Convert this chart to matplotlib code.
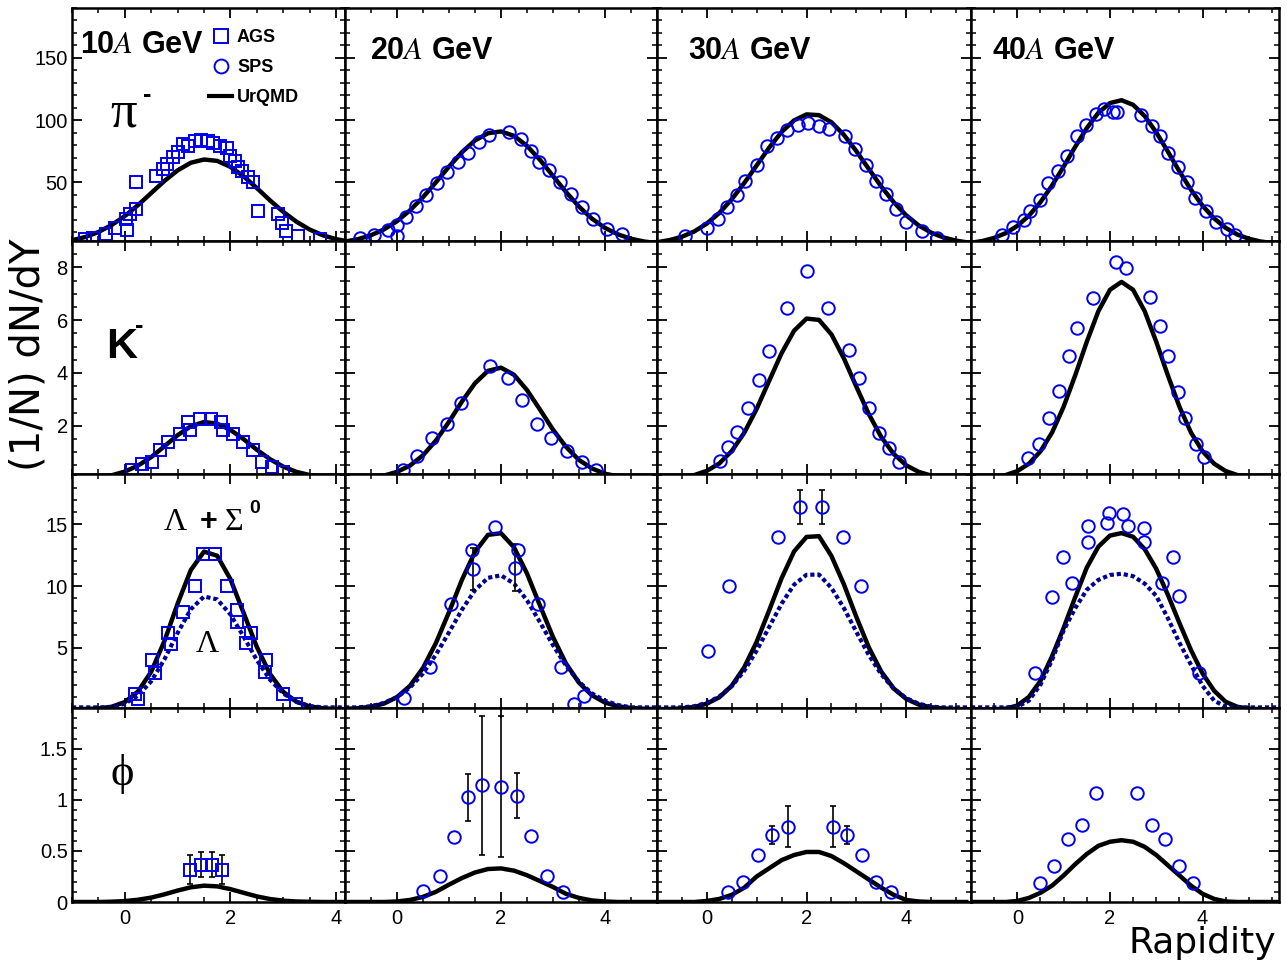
import numpy as np
import matplotlib
matplotlib.use('Agg')
import matplotlib.pyplot as plt
from matplotlib.ticker import MultipleLocator, FormatStrFormatter
from matplotlib.lines import Line2D

W, H = 1287, 965
BLUE, NAVY, INK = '#0000ee', '#000090', 'black'

plt.rcParams.update({
    'font.family': 'Liberation Sans', 'mathtext.fontset': 'stix',
    'xtick.direction': 'in', 'ytick.direction': 'in',
    'xtick.top': True, 'ytick.right': True,
    'axes.linewidth': 1.8, 'axes.edgecolor': INK,
})

# panel geometry in pixels (ROOT-like 4x4 canvas)
COL_EDGES = [72, 345, 657, 971, 1279]
ROW_EDGES = [8, 241, 474, 708, 902]
XLIMS = [(-1, 4.17), (-1, 5.0), (-1, 5.3), (-1, 5.65)]
YLIMS = [(3, 190), (0.17, 9.0), (0.1, 19.1), (0, 1.9)]
Y_MAJOR = [50, 2, 5, 0.5]
Y_MINOR = [10, 0.5, 1, 0.1]
ENERGIES = ['10', '20', '30', '40']

# UrQMD curves sampled on rapidity grid -1, -0.75, ... (one list per beam energy)
GRID = np.arange(-1, 5.76, 0.25)
PI_URQMD = [
    [3.6, 6.2, 10.2, 15.8, 23.0, 31.8, 41.5, 51.2, 59.7, 65.8, 68.4, 67.3, 62.5, 54.9, 45.5, 35.6, 26.4, 18.5,
     12.2, 7.6, 4.5, 2.5],
    [2.5, 4.5, 7.6, 12.3, 18.9, 27.6, 38.2, 50.2, 62.7, 74.3, 83.7, 89.5, 90.9, 87.4, 79.3, 68.1, 55.2, 42.3,
     30.6, 20.9, 13.5, 8.3, 4.8, 2.6, 1.3],
    [2.0, 3.7, 6.4, 10.7, 17.0, 25.5, 36.5, 49.5, 63.7, 77.9, 90.5, 99.8, 104.6, 104.0, 98.3, 88.2, 75.1, 60.8,
     46.7, 34.1, 23.6, 15.5, 9.7, 5.8, 3.3, 1.7],
    [1.6, 3.0, 5.5, 9.3, 15.1, 23.3, 34.2, 47.5, 62.7, 78.6, 93.6, 105.9, 113.7, 116.0, 112.3, 103.3, 90.2, 74.8,
     58.9, 44.1, 31.3, 21.1, 13.5, 8.2, 4.8, 2.6, 1.4, 0.6],
]
K_URQMD = [
    [0.01, 0.02, 0.05, 0.12, 0.26, 0.49, 0.81, 1.22, 1.64, 1.98, 2.14, 2.08, 1.84, 1.49, 1.09, 0.73, 0.45, 0.25,
     0.13, 0.06, 0.02, 0.01],
    [0.01, 0.02, 0.05, 0.11, 0.25, 0.49, 0.88, 1.44, 2.15, 2.92, 3.61, 4.08, 4.20, 3.93, 3.35, 2.61, 1.85, 1.20,
     0.70, 0.38, 0.18, 0.08, 0.03, 0.01, 0.0],
    [0.01, 0.02, 0.06, 0.13, 0.29, 0.57, 1.04, 1.73, 2.64, 3.70, 4.75, 5.60, 6.06, 6.01, 5.46, 4.55, 3.48, 2.44,
     1.57, 0.93, 0.50, 0.25, 0.11, 0.05, 0.02, 0.01],
    [0.01, 0.02, 0.06, 0.13, 0.28, 0.56, 1.03, 1.74, 2.72, 3.91, 5.18, 6.34, 7.15, 7.45, 7.15, 6.34, 5.18, 3.91,
     2.72, 1.74, 1.03, 0.56, 0.28, 0.13, 0.06, 0.02, 0.01, 0.0],
]
LAMSIG_URQMD = [
    [0.0, 0.02, 0.06, 0.2, 0.58, 1.44, 3.05, 5.53, 8.57, 11.3, 12.8, 12.46, 10.56, 7.82, 5.06, 2.86, 1.41, 0.61,
     0.23, 0.08, 0.02, 0.0],
    [0.03, 0.08, 0.2, 0.46, 0.98, 1.90, 3.35, 5.39, 7.88, 10.52, 12.78, 14.16, 14.29, 13.15, 11.02, 8.41, 5.86,
     3.71, 2.15, 1.13, 0.54, 0.24, 0.1, 0.04, 0.01],
    [0.0, 0.02, 0.07, 0.19, 0.45, 0.97, 1.91, 3.40, 5.48, 8.02, 10.64, 12.81, 13.99, 14.05, 12.44, 10.14, 7.49,
     5.02, 3.05, 1.68, 0.84, 0.38, 0.16, 0.06, 0.02, 0.0],
    [0.0, 0.0, 0.0, 0.05, 0.3, 1.0, 2.3, 4.3, 6.6, 9.1, 11.5, 13.2, 14.1, 14.3, 14.0, 13.0, 11.4, 9.3, 7.0, 4.8,
     2.9, 1.5, 0.6, 0.2, 0.05, 0.0, 0.0, 0.0],
]
LAM_URQMD = [
    [0.15, 0.15, 0.15, 0.16, 0.45, 1.10, 2.27, 4.05, 6.19, 8.12, 9.15, 8.92, 7.70, 5.89, 4.0, 2.40, 1.28, 0.60,
     0.25, 0.15, 0.15, 0.15],
    [0.15, 0.15, 0.24, 0.51, 0.98, 1.76, 2.91, 4.44, 6.24, 8.09, 9.67, 10.67, 10.87, 10.20, 8.84, 7.06, 5.20,
     3.54, 2.22, 1.28, 0.69, 0.34, 0.15, 0.15, 0.15],
    [0.15, 0.15, 0.15, 0.24, 0.52, 1.03, 1.87, 3.12, 4.76, 6.67, 8.57, 10.11, 10.92, 10.93, 9.85, 8.21, 6.28,
     4.40, 2.83, 1.67, 0.90, 0.45, 0.20, 0.15, 0.15, 0.15],
    [0.15, 0.15, 0.15, 0.15, 0.2, 0.7, 2.0, 4.0, 6.4, 8.2, 9.7, 10.5, 10.9, 11.0, 10.8, 10.2, 9.2, 7.4, 5.4, 3.6,
     1.9, 0.7, 0.2, 0.15, 0.15, 0.15, 0.15, 0.15],
]
PHI_URQMD = [
    [0, 0, 0, 0.003, 0.009, 0.022, 0.043, 0.075, 0.112, 0.144, 0.16, 0.153, 0.126, 0.09, 0.055, 0.029, 0.013,
     0.005, 0.002, 0, 0, 0],
    [0, 0, 0, 0, 0.005, 0.02, 0.05, 0.10, 0.17, 0.235, 0.289, 0.323, 0.329, 0.307, 0.262, 0.205, 0.147, 0.08,
     0.04, 0.015, 0.005, 0, 0, 0, 0],
    [0, 0, 0, 0, 0.01, 0.03, 0.07, 0.14, 0.25, 0.33, 0.41, 0.46, 0.49, 0.49, 0.45, 0.38, 0.30, 0.22, 0.14, 0.07,
     0.02, 0.005, 0, 0, 0, 0],
    [0, 0, 0, 0, 0.01, 0.04, 0.09, 0.16, 0.26, 0.37, 0.47, 0.55, 0.59, 0.605, 0.59, 0.54, 0.46, 0.36, 0.26, 0.16,
     0.08, 0.03, 0.005, 0, 0, 0, 0, 0],
]

# measured data (10A GeV = AGS squares, others = SPS circles)
PI_X = [
    [-0.76, -0.60, -0.36, -0.19, 0.05, 0.03, 0.09, 0.22, 0.21, 0.60, 0.72, 0.79, 0.92, 1.00, 1.10, 1.20, 1.33,
     1.45, 1.57, 1.67, 1.80, 1.93, 1.99, 2.08, 2.15, 2.21, 2.34, 2.43, 2.53, 2.90, 2.97, 3.06, 3.28, 3.69],
    [-0.71, -0.44, -0.18, 0.00, 0.00, 0.17, 0.37, 0.56, 0.77, 0.97, 1.18, 1.37, 1.57, 1.77, 2.16, 2.38, 2.57,
     2.73, 2.93, 3.13, 3.35, 3.56, 3.77, 4.03, 4.32],
    [-0.44, 0.00, 0.23, 0.40, 0.61, 0.77, 1.01, 1.21, 1.41, 1.60, 1.82, 2.03, 2.25, 2.46, 2.77, 2.98, 3.20, 3.40,
     3.59, 3.80, 3.99, 4.31, 4.61],
    [-0.34, -0.10, 0.14, 0.27, 0.48, 0.67, 0.87, 1.08, 1.28, 1.48, 1.69, 1.88, 2.07, 2.16, 2.67, 2.90, 3.08, 3.25,
     3.48, 3.66, 3.84, 4.07, 4.30, 4.52, 4.71],
]
PI_Y = [
    [4.5, 5.8, 8.5, 13.8, 11.7, 20.6, 24.6, 28.6, 50.6, 55.4, 60.8, 64.8, 70.1, 74.1, 80.9, 79.0, 83.0, 84.0, 83.5,
     82.0, 79.5, 78.0, 71.5, 67.4, 62.0, 59.4, 54.0, 50.0, 27.3, 24.6, 17.8, 11.2, 7.2, 4.5],
    [5.3, 7.7, 11.7, 16.0, 7.2, 21.9, 31.3, 39.9, 49.2, 58.0, 66.1, 73.6, 82.2, 88.3, 90.2, 84.9, 75.5, 66.1, 60.2,
     50.0, 40.7, 29.9, 20.6, 12.5, 8.5],
    [7.2, 13.8, 20.6, 30.5, 40.1, 51.4, 64.0, 78.9, 85.4, 92.1, 96.4, 97.4, 95.3, 92.9, 87.5, 76.8, 64.2, 51.4,
     40.7, 28.6, 18.4, 11.2, 5.8],
    [7.7, 14.6, 20.0, 27.3, 36.1, 49.2, 59.4, 71.5, 87.5, 96.1, 105.0, 109.0, 106.8, 106.8, 104.2, 95.0, 87.5,
     73.6, 62.6, 50.0, 37.9, 27.3, 18.4, 13.0, 7.7],
]
K_X = [
    [0.13, 0.32, 0.51, 0.66, 0.82, 1.04, 1.20, 1.23, 1.42, 1.64, 1.83, 1.86, 2.05, 2.24, 2.43, 2.59, 2.78, 3.00],
    [0.11, 0.38, 0.67, 0.97, 1.24, 1.78, 2.13, 2.40, 2.69, 2.97, 3.26, 3.55, 3.82],
    [0.27, 0.43, 0.61, 0.83, 1.04, 1.24, 1.60, 2.01, 2.43, 2.85, 3.06, 3.26, 3.46, 3.66, 3.86],
    [0.24, 0.46, 0.68, 0.89, 1.11, 1.28, 1.63, 2.12, 2.34, 2.86, 3.07, 3.25, 3.46, 3.63, 3.85, 4.04],
]
K_Y = [
    [0.31, 0.54, 0.62, 1.07, 1.38, 1.70, 2.14, 1.83, 2.24, 2.27, 2.14, 1.83, 1.70, 1.38, 1.07, 0.62, 0.43, 0.24],
    [0.31, 0.84, 1.52, 2.06, 2.86, 4.26, 3.81, 2.97, 2.06, 1.52, 1.03, 0.61, 0.31],
    [0.65, 1.18, 1.75, 2.67, 3.73, 4.83, 6.47, 7.87, 6.47, 4.87, 3.81, 2.67, 1.72, 1.15, 0.61],
    [0.76, 1.29, 2.28, 3.31, 4.64, 5.71, 6.85, 8.22, 7.99, 6.89, 5.78, 4.64, 3.27, 2.28, 1.29, 0.80],
]
LAM_X = [
    [0.19, 0.25, 0.51, 0.57, 0.82, 0.87, 1.10, 1.33, 1.49, 1.70, 1.93, 2.12, 2.13, 2.30, 2.39, 2.68, 2.66, 3.00,
     3.24],
    [0.14, 0.63, 1.04, 1.45, 1.47, 1.89, 2.33, 2.26, 2.72, 3.15, 3.59, 3.41],
    [0.03, 0.45, 1.42, 1.86, 2.31, 2.73, 3.10],
    [0.38, 0.74, 0.99, 1.19, 1.53, 1.53, 1.93, 1.97, 2.29, 2.40, 2.74, 2.74, 3.37, 3.13, 3.50, 3.92],
]
LAM_Y = [
    [1.25, 0.82, 4.0, 2.97, 6.17, 5.30, 7.92, 10.0, 12.6, 12.6, 10.0, 8.05, 7.11, 5.36, 6.17, 4.0, 3.06, 1.25,
     0.44],
    [0.95, 3.41, 8.54, 12.92, 11.38, 14.81, 12.92, 11.48, 8.54, 3.41, 1.09, 0.44],
    [4.73, 10.0, 13.97, 16.4, 16.4, 13.97, 10.0],
    [2.97, 9.08, 12.33, 10.22, 14.86, 13.59, 15.16, 15.97, 15.89, 14.89, 14.72, 13.59, 12.33, 10.22, 9.21, 2.97],
]
PHI_X = [
    [1.24, 1.45, 1.65, 1.85],
    [0.50, 0.82, 1.10, 1.37, 1.64, 2.00, 2.31, 2.57, 2.88, 3.20],
    [0.42, 0.72, 1.02, 1.31, 1.63, 2.53, 2.81, 3.12, 3.40, 3.70],
    [0.49, 0.80, 1.10, 1.39, 1.70, 2.59, 2.90, 3.19, 3.50, 3.79],
]
PHI_Y = [
    [0.316, 0.365, 0.365, 0.316],
    [0.105, 0.253, 0.638, 1.027, 1.141, 1.131, 1.039, 0.645, 0.253, 0.095],
    [0.095, 0.194, 0.457, 0.654, 0.736, 0.736, 0.654, 0.457, 0.194, 0.095],
    [0.187, 0.352, 0.615, 0.753, 1.072, 1.072, 0.753, 0.615, 0.352, 0.187],
]
# points carrying error bars: (row, col) -> x, y, err
ERR_POINTS = {
    (2, 1): ([1.47, 2.26], [11.38, 11.48], [1.7, 1.9]),
    (2, 2): ([1.86, 2.31], [16.4, 16.4], [1.4, 1.4]),
    (3, 0): ([1.24, 1.45, 1.65, 1.85], [0.316, 0.365, 0.365, 0.316], [0.14, 0.12, 0.12, 0.14]),
    (3, 1): ([1.37, 1.64, 2.00, 2.31], [1.027, 1.141, 1.131, 1.039], [0.23, 0.68, 0.69, 0.22]),
    (3, 2): ([1.31, 1.63, 2.53, 2.81], [0.654, 0.736, 0.736, 0.654], [0.09, 0.2, 0.2, 0.09]),
}

SOLID = [PI_URQMD, K_URQMD, LAMSIG_URQMD, PHI_URQMD]
DATA_X = [PI_X, K_X, LAM_X, PHI_X]
DATA_Y = [PI_Y, K_Y, LAM_Y, PHI_Y]


def fx(px):
    return px / W


def fy(py):
    return 1 - py / H


fig = plt.figure(figsize=(W / 100, H / 100), dpi=100)
for r in range(4):
    for c in range(4):
        l, rr = COL_EDGES[c], COL_EDGES[c + 1]
        t, b = ROW_EDGES[r], ROW_EDGES[r + 1]
        ax = fig.add_axes([fx(l), fy(b), (rr - l) / W, (b - t) / H])
        ax.set_xlim(*XLIMS[c]); ax.set_ylim(*YLIMS[r])
        vals = SOLID[r][c]
        ax.plot(GRID[:len(vals)], vals, color=INK, lw=3.2, zorder=2, solid_capstyle='butt')
        if r == 2:
            dv = LAM_URQMD[c]
            ax.plot(GRID[:len(dv)], dv, color=NAVY, lw=3.0, ls=(0, (1.0, 0.7)), zorder=2)
        if (r, c) in ERR_POINTS:
            ex, ey, ee = ERR_POINTS[(r, c)]
            ax.errorbar(ex, ey, yerr=ee, fmt='none', ecolor=INK, elinewidth=1.2, capsize=2.5,
                        capthick=1.2, zorder=3)
        mk = 's' if c == 0 else 'o'
        ax.plot(DATA_X[r][c], DATA_Y[r][c], ls='none', marker=mk, ms=9, mfc='none', mec=BLUE,
                mew=1.4, zorder=4)
        ax.xaxis.set_major_locator(MultipleLocator(2))
        ax.xaxis.set_minor_locator(MultipleLocator(0.5))
        ax.yaxis.set_major_locator(MultipleLocator(Y_MAJOR[r]))
        ax.yaxis.set_minor_locator(MultipleLocator(Y_MINOR[r]))
        ax.yaxis.set_major_formatter(FormatStrFormatter('%g'))
        ax.tick_params(which='major', length=7, width=1.3, labelsize=14.5, pad=3)
        ax.tick_params(which='minor', length=3.6, width=1.1)
        ax.tick_params(axis='x', which='major', pad=5)
        ax.tick_params(labelleft=(c == 0), labelbottom=(r == 3))
        if r == 0 and c == 0:
            handles = [Line2D([], [], ls='none', marker='s', ms=10, mfc='none', mec=BLUE, mew=1.4),
                       Line2D([], [], ls='none', marker='o', ms=10, mfc='none', mec=BLUE, mew=1.4),
                       Line2D([], [], color=INK, lw=3)]
            ax.legend(handles, ['AGS', 'SPS', 'UrQMD'], loc='upper left', frameon=False,
                      bbox_to_anchor=(fx(209), fy(29)), bbox_transform=fig.transFigure,
                      prop={'family': 'Liberation Sans', 'weight': 'bold', 'size': 13},
                      handlelength=1.3, handletextpad=0.25, labelspacing=0.72, borderpad=0,
                      borderaxespad=0)

# beam energy labels
E_POS = [(80, 53), (370, 59), (688, 59), (992, 59)]
for e, (px, py) in zip(ENERGIES, E_POS):
    fig.text(fx(px), fy(py), e + r'$\mathit{A}$ GeV', fontsize=22, fontweight='bold', va='baseline')

# particle labels
SERIF = ['Liberation Serif', 'DejaVu Serif']
fig.text(fx(124), fy(126), 'π', family=SERIF, fontsize=38, ha='center', va='baseline')
fig.text(fx(147), fy(95), '-', fontsize=18, fontweight='bold', ha='center', va='center')
fig.text(fx(106), fy(358), 'K', fontsize=31, fontweight='bold', va='baseline')
fig.text(fx(139), fy(326), '-', fontsize=18, fontweight='bold', ha='center', va='center')
fig.text(fx(164), fy(530), 'Λ', family=SERIF, fontsize=23, va='baseline')
fig.text(fx(209), fy(530), '+', fontsize=22, fontweight='bold', ha='center', va='baseline')
fig.text(fx(225), fy(530), 'Σ', family=SERIF, fontsize=23, va='baseline')
fig.text(fx(249), fy(513), '0', fontsize=14, fontweight='bold', va='baseline')
fig.text(fx(196), fy(652), 'Λ', family=SERIF, fontsize=23, va='baseline')
fig.text(fx(122), fy(774), 'ϕ', family=SERIF, fontsize=32, ha='center', va='center')

# axis titles
fig.text(fx(29), fy(355), '(1/N) dN/dY', family='DejaVu Sans', fontsize=29, rotation=90,
         ha='center', va='center')
fig.text(fx(1276), fy(953), 'Rapidity', family='DejaVu Sans', fontsize=26, ha='right', va='baseline')

fig.savefig('out.png', dpi=100)
